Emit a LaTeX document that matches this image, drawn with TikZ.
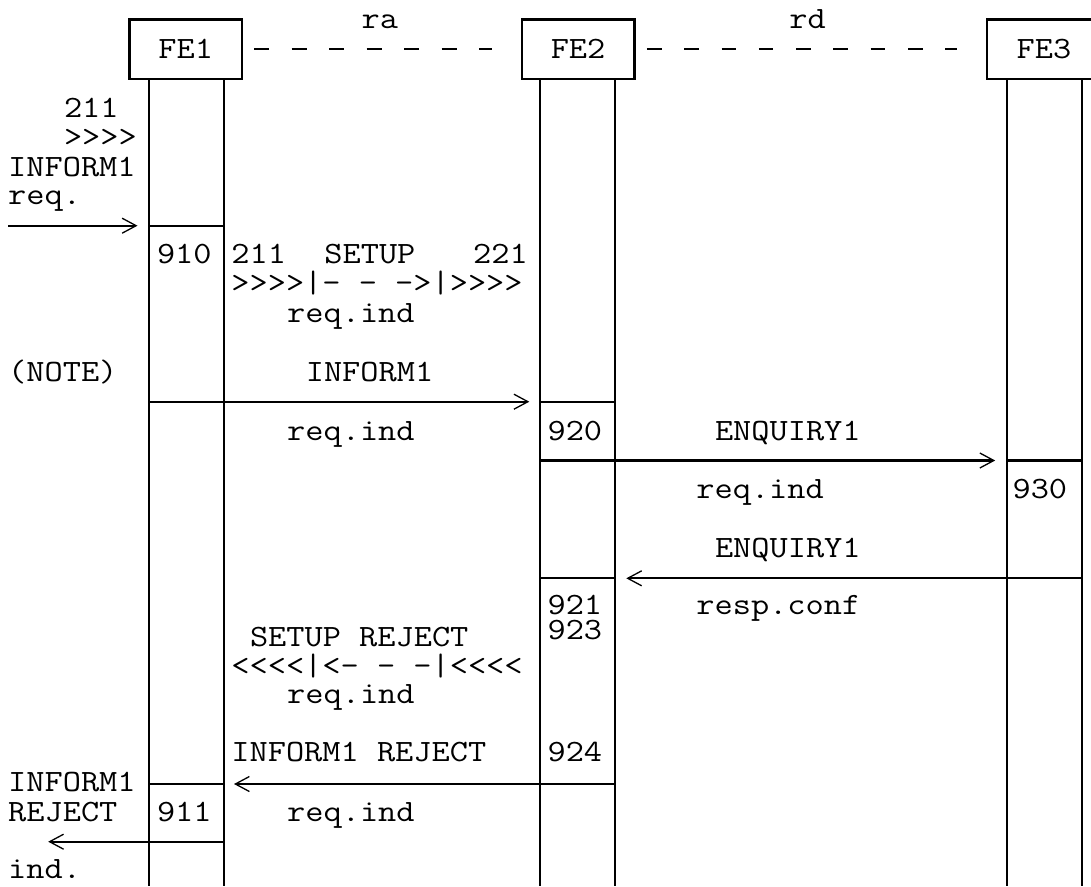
\documentclass[tikz,border=0pt]{standalone}
\usepackage{graphicx}
\usetikzlibrary{arrows.meta}
\newcommand{\cwtxt}[1]{\scalebox{1.14}[1]{#1}}
\tikzset{
  txt/.style={font=\fontsize{31}{31}\selectfont\ttfamily, inner sep=0pt, anchor=base west},
  febox/.style={draw, line width=2.6pt, inner sep=0pt, minimum height=59.7pt,
                font=\fontsize{31}{31}\selectfont\ttfamily, anchor=center},
  life/.style={line width=2pt},
  act/.style={line width=2.2pt},
  msg/.style={line width=2.2pt, -{Straight Barb[length=14pt,width=15pt,line width=1.3pt]}},
  link/.style={line width=2.2pt, dash pattern=on 15pt off 22.5pt}
}
\begin{document}
\begin{tikzpicture}[x=1pt,y=-1pt]
\useasboundingbox (0,0) rectangle (1091,886);
\fill[white] (0,0) rectangle (1091,886);

% functional entities
\node[febox, minimum width=112.8pt] (fe1) at (185.7,49.15) {\cwtxt{FE1}};
\node[febox, minimum width=112.5pt] (fe2) at (578.05,49.15) {\cwtxt{FE2}};
\node[febox, minimum width=114pt] (fe3) at (1044,49.15) {\cwtxt{FE3}};

% relationships
\draw[link] ([xshift=10.8pt]fe1.east) -- ([xshift=-28.9pt]fe2.west);
\draw[link, dash pattern=on 14.6pt off 22.7pt] ([xshift=11.3pt]fe2.east) -- ([xshift=-28.4pt]fe3.west);
\node[txt] (ra) at (361.4,28.3) {\cwtxt{ra}};
\node[txt] (rd) at (789.2,28.3) {\cwtxt{rd}};

% lifelines
\coordinate (l1a) at (148.6,79);  \coordinate (l1a') at (148.6,886);
\coordinate (l1b) at (223.6,79);  \coordinate (l1b') at (223.6,886);
\coordinate (l2a) at (540,79);    \coordinate (l2a') at (540,886);
\coordinate (l2b) at (615.4,79);  \coordinate (l2b') at (615.4,886);
\coordinate (l3a) at (1007.3,79); \coordinate (l3a') at (1007.3,886);
\coordinate (l3b) at (1081.7,79); \coordinate (l3b') at (1081.7,886);
\draw[life] (l1a) -- (l1a');
\draw[life] (l1b) -- (l1b');
\draw[life] (l2a) -- (l2a');
\draw[life] (l2b) -- (l2b');
\draw[life] (l3a) -- (l3a');
\draw[life] (l3b) -- (l3b');

% activation separators
\draw[act] (148.6,225.7) -- (223.6,225.7);
\draw[act] (540,401.7) -- (615.4,401.7);
\draw[act] (540,578.3) -- (615.4,578.3);
\draw[act] (1007.3,460.5) -- (1081.7,460.5);
\draw[act] (148.6,784) -- (223.6,784);

% messages
\coordinate (m0s) at (8,225.7);      \coordinate (m0e) at (137.5,225.7);
\coordinate (m1s) at (148.6,401.7);  \coordinate (m1e) at (529.3,401.7);
\coordinate (m2s) at (540,460.5);    \coordinate (m2e) at (995.2,460.5);
\coordinate (m3s) at (1081.7,578.3); \coordinate (m3e) at (626.3,578.3);
\coordinate (m4s) at (615.4,784);    \coordinate (m4e) at (234,784);
\coordinate (m5s) at (223.6,841.7);  \coordinate (m5e) at (48.2,841.7);
\draw[msg] (m0s) -- (m0e);
\draw[msg] (m1s) -- (m1e);
\draw[msg] (m2s) -- (m2e);
\draw[msg] (m3s) -- (m3e);
\draw[msg] (m4s) -- (m4e);
\draw[msg] (m5s) -- (m5e);

% texts
\node[txt] (t01) at (63.8,117) {\cwtxt{211}};
\node[txt] (t02) at (63.8,146.5) {\cwtxt{>>>>}};
\node[txt] (t03) at (8,176) {\cwtxt{INFORM1}};
\node[txt] (t04) at (8,204) {\cwtxt{req.}};

\node[txt] (t05) at (156.8,263) {\cwtxt{910}};
\node[txt] (t06) at (231.2,263) {\cwtxt{211}};
\node[txt] (t07) at (324.2,263) {\cwtxt{SETUP}};
\node[txt] (t08) at (473,263) {\cwtxt{221}};
\node[txt] (t09) at (231.2,292.5) {\cwtxt{>>>>|- - ->|>>>>}};
\node[txt] (t10) at (287,322) {\cwtxt{req.ind}};

\node[txt] (t11) at (8,381.7) {\cwtxt{(NOTE)}};
\node[txt] (t12) at (305.6,381.7) {\cwtxt{INFORM1}};
\node[txt] (t13) at (287,440) {\cwtxt{req.ind}};
\node[txt] (t14) at (547.4,440) {\cwtxt{920}};
\node[txt] (t15) at (714.8,440) {\cwtxt{ENQUIRY1}};

\node[txt] (t16) at (696.2,498.3) {\cwtxt{req.ind}};
\node[txt] (t17) at (1012.4,498.3) {\cwtxt{930}};
\node[txt] (t18) at (714.8,557) {\cwtxt{ENQUIRY1}};
\node[txt, anchor=north west, align=left, font=\fontsize{31}{25}\selectfont\ttfamily]
      (t19) at (547.4,595.2) {\cwtxt{921}\\\cwtxt{923}};
\node[txt] (t20) at (696.2,614) {\cwtxt{resp.conf}};

\node[txt] (t22) at (249.8,646) {\cwtxt{SETUP REJECT}};
\node[txt] (t23) at (231.2,675) {\cwtxt{<<<<|<- - -|<<<<}};
\node[txt] (t24) at (287,703) {\cwtxt{req.ind}};

\node[txt] (t25) at (231.2,761.7) {\cwtxt{INFORM1 REJECT}};
\node[txt] (t26) at (547.4,761.7) {\cwtxt{924}};
\node[txt] (t27) at (8,791.7) {\cwtxt{INFORM1}};
\node[txt] (t28) at (8,821.7) {\cwtxt{REJECT}};
\node[txt] (t29) at (156.8,821.7) {\cwtxt{911}};
\node[txt] (t30) at (287,821.7) {\cwtxt{req.ind}};
\node[txt] (t31) at (8,878) {\cwtxt{ind.}};
\end{tikzpicture}
\end{document}
